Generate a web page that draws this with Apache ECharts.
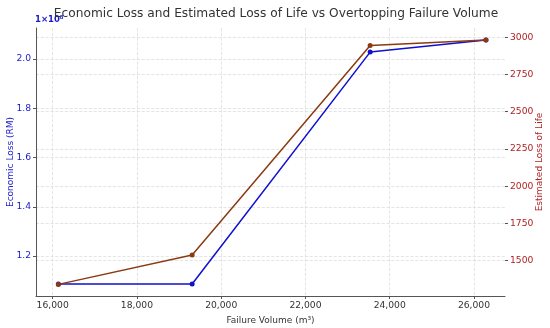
<!DOCTYPE html>
<html>
<head>
<meta charset="utf-8">
<script src="https://cdn.jsdelivr.net/npm/echarts@6/dist/echarts.min.js"></script>
<style>html,body{margin:0;padding:0;background:#fff;}#c{width:550px;height:328px;}</style>
</head>
<body>
<div id="c"></div>
<script>
var failureVolume = [16135, 19310, 23535, 26284];
var economicLoss = [108630000, 108630000, 202800000, 207700000];
var lossOfLife = [1341, 1538, 2944, 2982];
var xTicks = [16000, 18000, 20000, 22000, 24000, 26000];
var leftTicks = [120000000, 140000000, 160000000, 180000000, 200000000];
var rightTicks = [1500, 1750, 2000, 2250, 2500, 2750, 3000];

var font = 'DejaVu Sans';
var chart = echarts.init(document.getElementById('c'), null, {renderer: 'canvas'});
var grid = {type: 'dashed', color: '#dddddd', width: 0.8};
chart.setOption({
  animation: false,
  backgroundColor: '#fff',
  title: {
    text: 'Economic Loss and Estimated Loss of Life vs Overtopping Failure Volume',
    left: 271, top: 3, textAlign: 'center',
    textStyle: {fontFamily: font, fontSize: 12.2, fontWeight: 'normal', color: '#333'}
  },
  graphic: [{
    type: 'text', left: 35, top: 15,
    style: {text: '1×10⁸', fill: '#1a1acc', font: 'bold 8.5px "DejaVu Sans"'}
  }],
  grid: {left: 36, right: 45, top: 28, bottom: 32, outerBoundsMode: 'none', containLabel: false},
  xAxis: {
    type: 'value', min: 15604, max: 26736,
    name: 'Failure Volume (m³)', nameLocation: 'middle', nameGap: 20, nameMoveOverlap: false,
    nameTextStyle: {fontFamily: font, fontSize: 9, color: '#333'},
    axisLine: {show: true, lineStyle: {color: '#555', width: 1}},
    axisTick: {show: true, customValues: xTicks, length: 3, lineStyle: {color: '#555'}},
    axisLabel: {customValues: xTicks, fontFamily: font, fontSize: 9.2, color: '#333', margin: 5,
      formatter: function (v) { return v.toLocaleString('en-US'); }},
    splitLine: {show: true, lineStyle: grid}
  },
  yAxis: [{
    type: 'value', min: 103760000, max: 212590000, position: 'left',
    name: 'Economic Loss (RM)', nameLocation: 'middle', nameGap: 21, nameMoveOverlap: false,
    nameTextStyle: {fontFamily: font, fontSize: 9, color: '#1a1acc'},
    axisLine: {show: true, lineStyle: {color: '#555', width: 1}},
    axisTick: {show: true, customValues: leftTicks, length: 3, lineStyle: {color: '#555'}},
    axisLabel: {customValues: leftTicks, fontFamily: font, fontSize: 9.2, color: '#1a1acc', margin: 5,
      formatter: function (v) { return (v / 1e8).toFixed(1); }},
    splitLine: {show: true, lineStyle: grid}
  }, {
    type: 'value', min: 1263, max: 3062, position: 'right',
    name: 'Estimated Loss of Life', nameLocation: 'middle', nameGap: 30, nameMoveOverlap: false,
    nameTextStyle: {fontFamily: font, fontSize: 9, color: '#b22222'},
    axisLine: {show: false},
    axisTick: {show: true, customValues: rightTicks, length: 3, lineStyle: {color: '#555'}},
    axisLabel: {customValues: rightTicks, fontFamily: font, fontSize: 9.2, color: '#b22222', margin: 5,
      formatter: function (v) { return String(v); }},
    splitLine: {show: true, lineStyle: grid}
  }],
  series: [{
    type: 'line', yAxisIndex: 0,
    data: failureVolume.map(function (x, i) { return [x, economicLoss[i]]; }),
    symbol: 'circle', symbolSize: 5,
    lineStyle: {color: '#1010d0', width: 1.5},
    itemStyle: {color: '#1010d0'}
  }, {
    type: 'line', yAxisIndex: 1,
    data: failureVolume.map(function (x, i) { return [x, lossOfLife[i]]; }),
    symbol: 'circle', symbolSize: 5,
    lineStyle: {color: '#8b3a12', width: 1.5},
    itemStyle: {color: '#8b3a12'}
  }]
});
</script>
</body>
</html>
